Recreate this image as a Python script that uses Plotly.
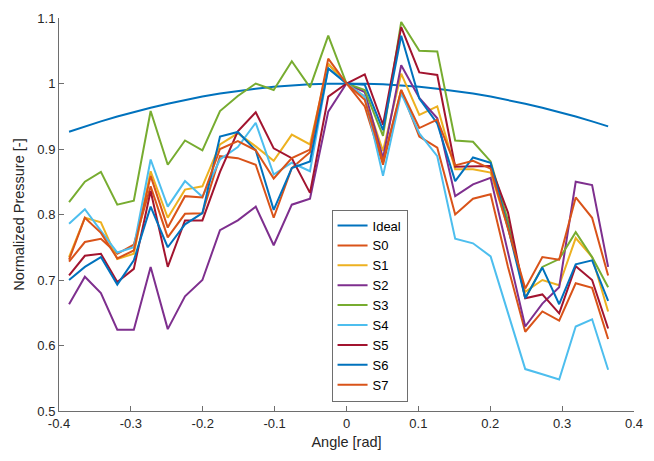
import plotly.graph_objects as go

angle = [-0.3860, -0.3640, -0.3417, -0.3189, -0.2959, -0.2725, -0.2487, -0.2247,
         -0.2005, -0.1760, -0.1512, -0.1263, -0.1013, -0.0761, -0.0508, -0.0254,
         0.0, 0.0254, 0.0508, 0.0761, 0.1013, 0.1263, 0.1512, 0.1760,
         0.2005, 0.2247, 0.2487, 0.2725, 0.2959, 0.3189, 0.3417, 0.3640]

ideal = [0.9264, 0.9345, 0.9422, 0.9496, 0.9565, 0.9631, 0.9692, 0.9749,
         0.9800, 0.9846, 0.9886, 0.9920, 0.9949, 0.9971, 0.9987, 0.9997,
         1.0, 0.9997, 0.9987, 0.9971, 0.9949, 0.9920, 0.9886, 0.9846,
         0.9800, 0.9749, 0.9692, 0.9631, 0.9565, 0.9496, 0.9422, 0.9345]

s0 = [0.728, 0.758, 0.763, 0.740, 0.754, 0.843, 0.765, 0.801, 0.802, 0.889, 0.886, 0.876,
      0.795, 0.871, 0.895, 1.030, 1.0, 0.965, 0.876, 0.990, 0.919, 0.902, 0.800, 0.824,
      0.831, 0.720, 0.621, 0.652, 0.638, 0.695, 0.688, 0.610]
s1 = [0.735, 0.795, 0.788, 0.732, 0.740, 0.866, 0.795, 0.838, 0.843, 0.907, 0.924, 0.904,
      0.882, 0.922, 0.907, 1.030, 1.0, 0.980, 0.897, 1.015, 0.952, 0.965, 0.869, 0.869,
      0.864, 0.780, 0.682, 0.700, 0.692, 0.764, 0.735, 0.652]
s2 = [0.663, 0.705, 0.680, 0.624, 0.624, 0.720, 0.625, 0.675, 0.700, 0.776, 0.791, 0.812,
      0.753, 0.815, 0.824, 0.957, 1.0, 0.987, 0.886, 1.028, 0.978, 0.947, 0.828, 0.846,
      0.856, 0.740, 0.629, 0.664, 0.689, 0.850, 0.845, 0.720]
s3 = [0.819, 0.850, 0.865, 0.815, 0.821, 0.958, 0.876, 0.913, 0.898, 0.958, 0.981, 1.000,
      0.990, 1.034, 0.994, 1.073, 1.0, 0.990, 0.920, 1.094, 1.050, 1.049, 0.913, 0.911,
      0.881, 0.790, 0.672, 0.720, 0.732, 0.773, 0.735, 0.689]
s4 = [0.786, 0.808, 0.775, 0.742, 0.750, 0.884, 0.812, 0.851, 0.827, 0.884, 0.903, 0.940,
      0.861, 0.879, 0.866, 1.023, 1.0, 0.980, 0.859, 0.985, 0.924, 0.889, 0.763, 0.756,
      0.736, 0.650, 0.564, 0.556, 0.548, 0.629, 0.640, 0.563]
s5 = [0.707, 0.737, 0.740, 0.697, 0.717, 0.836, 0.720, 0.791, 0.791, 0.865, 0.927, 0.956,
      0.901, 0.886, 0.833, 0.980, 1.0, 1.014, 0.937, 1.086, 1.017, 1.013, 0.873, 0.873,
      0.874, 0.803, 0.672, 0.678, 0.649, 0.721, 0.700, 0.626]
s6 = [0.700, 0.720, 0.735, 0.693, 0.730, 0.812, 0.750, 0.785, 0.802, 0.919, 0.926, 0.898,
      0.807, 0.871, 0.881, 1.023, 1.0, 0.998, 0.929, 1.073, 0.977, 0.939, 0.851, 0.887,
      0.879, 0.780, 0.672, 0.719, 0.663, 0.724, 0.730, 0.668]
s7 = [0.731, 0.795, 0.772, 0.733, 0.745, 0.859, 0.780, 0.828, 0.826, 0.900, 0.912, 0.898,
      0.855, 0.886, 0.899, 1.038, 1.0, 0.975, 0.881, 0.990, 0.932, 0.945, 0.875, 0.882,
      0.870, 0.780, 0.687, 0.735, 0.731, 0.826, 0.795, 0.707]

names = ["Ideal", "S0", "S1", "S2", "S3", "S4", "S5", "S6", "S7"]
series = [ideal, s0, s1, s2, s3, s4, s5, s6, s7]
colors = ["#0072BD", "#D95319", "#EDB120", "#7E2F8E", "#77AC30", "#4DBEEE",
          "#A2142F", "#0072BD", "#D95319"]

x_ticks = [-0.4, -0.3, -0.2, -0.1, 0, 0.1, 0.2, 0.3, 0.4]
x_labels = ["-0.4", "-0.3", "-0.2", "-0.1", "0", "0.1", "0.2", "0.3", "0.4"]
y_ticks = [0.5, 0.6, 0.7, 0.8, 0.9, 1.0, 1.1]
y_labels = ["0.5", "0.6", "0.7", "0.8", "0.9", "1", "1.1"]

fig = go.Figure()
for n, s, c in zip(names, series, colors):
    fig.add_trace(go.Scatter(x=angle, y=s, mode="lines", name=n,
                             line=dict(color=c, width=2)))

axis_common = dict(showgrid=False, zeroline=False, showline=True,
                   linecolor="#6e6e6e", linewidth=1, ticks="inside", ticklen=5,
                   tickcolor="#6e6e6e", tickfont=dict(size=13, color="#262626"),
                   mirror=False)

fig.update_layout(
    width=654, height=461,
    margin=dict(l=59, r=11, t=16, b=50),
    paper_bgcolor="white", plot_bgcolor="white",
    font=dict(family="Liberation Sans, Arial, sans-serif", color="#262626"),
    xaxis=dict(range=[-0.4, 0.4], tickvals=x_ticks, ticktext=x_labels,
               title=dict(text="Angle [rad]", font=dict(size=14.5), standoff=7),
               **axis_common),
    yaxis=dict(range=[0.5, 1.1], tickvals=y_ticks, ticktext=y_labels,
               title=dict(text="Normalized Pressure [-]", font=dict(size=14.5), standoff=9),
               **axis_common),
    legend=dict(x=0.474, y=0.024, xanchor="left", yanchor="bottom",
                bordercolor="#6e6e6e", borderwidth=1, bgcolor="white",
                font=dict(size=13, color="#000000"), tracegroupgap=0,
                itemwidth=30),
    showlegend=True,
)

fig.write_html("out.html")
